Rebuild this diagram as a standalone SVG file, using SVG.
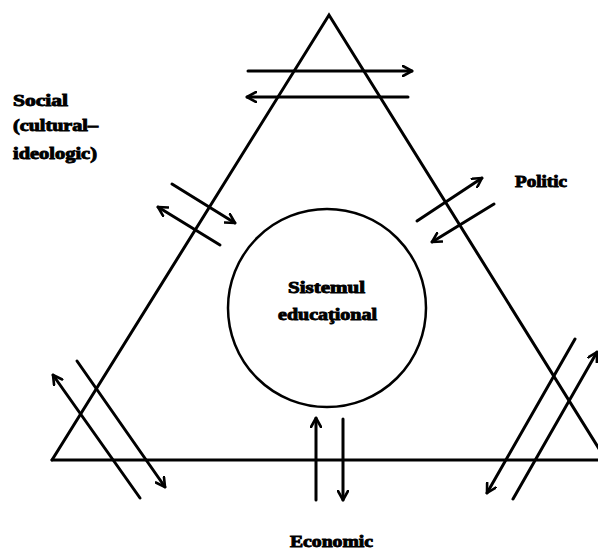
<svg xmlns="http://www.w3.org/2000/svg" width="598" height="551" viewBox="0 0 598 551">
<style>
.ln{stroke:#000;stroke-width:3;fill:none;stroke-linecap:round}
.ar{stroke:#000;stroke-width:3;fill:none;stroke-linecap:round;marker-end:url(#ah)}
.lbl{font-family:"Liberation Serif",serif;font-weight:bold;font-size:16px;fill:#000;stroke:#000;stroke-width:0.9}
</style>
<defs>
<marker id="ah" viewBox="0 0 12 12" refX="10" refY="6" markerWidth="12" markerHeight="12" markerUnits="userSpaceOnUse" orient="auto">
<polyline points="1,1 10,6 1,11" fill="none" stroke="#000" stroke-width="2.6" stroke-linecap="round" stroke-linejoin="round"/>
</marker>
</defs>
<rect width="598" height="551" fill="#fff"/>
<g id="triangle">
<polyline class="ln" points="52,460 329,15 606,460"/>
<line class="ln" x1="52" y1="460" x2="600" y2="460"/>
</g>
<g id="sistem">
<circle cx="327" cy="308" r="99" fill="none" stroke="#000" stroke-width="2.5"/>
<text class="lbl" x="288" y="293" textLength="77" lengthAdjust="spacingAndGlyphs">Sistemul</text>
<text class="lbl" x="278" y="320" textLength="99" lengthAdjust="spacingAndGlyphs">educaţional</text>
</g>
<g id="social">
<text class="lbl" x="13" y="106" textLength="55" lengthAdjust="spacingAndGlyphs">Social</text>
<text class="lbl" x="13" y="131" textLength="85" lengthAdjust="spacingAndGlyphs">(cultural–</text>
<text class="lbl" x="13" y="159" textLength="84" lengthAdjust="spacingAndGlyphs">ideologic)</text>
</g>
<g id="politic">
<text class="lbl" x="515" y="187" textLength="52" lengthAdjust="spacingAndGlyphs">Politic</text>
</g>
<g id="economic">
<text class="lbl" x="290" y="547" textLength="83" lengthAdjust="spacingAndGlyphs">Economic</text>
</g>
<g id="connectors">
<line class="ar" x1="248" y1="71" x2="412" y2="71"/>
<line class="ar" x1="408" y1="97" x2="247" y2="97"/>
<line class="ar" x1="172" y1="184" x2="235" y2="223"/>
<line class="ar" x1="220" y1="245" x2="158" y2="207"/>
<line class="ar" x1="417" y1="221" x2="482" y2="178"/>
<line class="ar" x1="494" y1="204" x2="432" y2="242"/>
<line class="ar" x1="140" y1="498" x2="53" y2="375"/>
<line class="ar" x1="77" y1="361" x2="165" y2="487"/>
<line class="ar" x1="575" y1="339" x2="487" y2="493"/>
<line class="ar" x1="513" y1="499" x2="597" y2="352"/>
<line class="ar" x1="316" y1="500" x2="316" y2="418"/>
<line class="ar" x1="343" y1="419" x2="343" y2="500"/>
</g>
</svg>
